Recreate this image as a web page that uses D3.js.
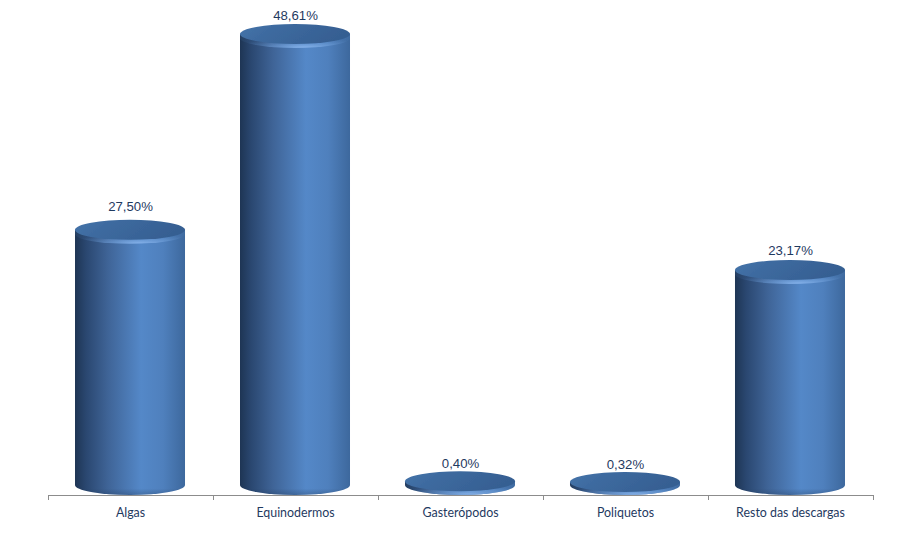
<!DOCTYPE html>
<html><head><meta charset="utf-8">
<script src="https://cdn.jsdelivr.net/npm/d3@7"></script>
<style>html,body{margin:0;background:#fff}svg{display:block}</style></head>
<body><svg id="c" width="909" height="551"></svg>
<script>
const categories = ["Algas","Equinodermos","Gasterópodos","Poliquetos","Resto das descargas"];
const values = [27.50,48.61,0.40,0.32,23.17];
const labels = ["27,50%","48,61%","0,40%","0,32%","23,17%"];
const labelGaps = [19,14,13,13,15];

const svg = d3.select("#c");
const x = d3.scaleBand().domain(categories).range([48,873]).paddingInner(0.3333).paddingOuter(0.1667);
const y = d3.scaleLinear().domain([0,48.61]).range([485,34]);
const rx = x.bandwidth()/2, ry = 10;

const defs = svg.append("defs");
const g = defs.append("linearGradient").attr("id","side");
[[0,"#1e3554"],[0.1,"#2a4770"],[0.3,"#3f6497"],[0.6,"#5488c8"],[0.8,"#4f80bd"],[1,"#3d689d"]]
  .forEach(([o,c])=>g.append("stop").attr("offset",o).attr("stop-color",c));
const glow = defs.append("radialGradient").attr("id","glow").attr("cx",0.58).attr("cy",0.95).attr("r",0.62);
[[0,"#86b2ea",0.95],[0.55,"#6f9fd9",0.45],[1,"#4f7fb8",0.12]].forEach(([o,c,a])=>glow.append("stop").attr("offset",o).attr("stop-color",c).attr("stop-opacity",a));
const face = defs.append("linearGradient").attr("id","face").attr("x1",0).attr("x2",1).attr("y1",0).attr("y2",0.25);
[[0,"#4674aa"],[0.35,"#3d6a9f"],[1,"#365f92"]].forEach(([o,c])=>face.append("stop").attr("offset",o).attr("stop-color",c));
const base = defs.append("linearGradient").attr("id","base").attr("x1",0).attr("x2",0).attr("y1",0).attr("y2",1);
[[0,"#1e3554",0],[0.7,"#1e3554",0],[1,"#1e3554",0.3]].forEach(([o,c,a])=>base.append("stop").attr("offset",o).attr("stop-color",c).attr("stop-opacity",a));
defs.append("filter").attr("id","blur").attr("x","-20%").attr("y","-20%").attr("width","140%").attr("height","140%")
  .append("feGaussianBlur").attr("stdDeviation",0.5);

const axis = d3.axisBottom(x).tickSize(0).tickPadding(13);
const ag = svg.append("g").attr("transform","translate(0,495)").call(axis);
ag.select(".domain").attr("stroke","#8c8c8c").attr("stroke-width",1.2).attr("d","M48,0.5H873");
ag.selectAll("text").attr("font-family","Lato, 'Noto Sans', sans-serif").attr("font-size",12.4).attr("fill","#1f3a5f");
const tickScale = d3.scaleLinear().domain([0,categories.length]).range([48,873]);
ag.selectAll(".sep").data(d3.range(categories.length+1)).join("line").attr("class","sep")
  .attr("x1",d=>tickScale(d)+0.5).attr("x2",d=>tickScale(d)+0.5).attr("y1",0).attr("y2",5)
  .attr("stroke","#8c8c8c");

const bars = svg.append("g").attr("transform","translate(-0.5,0)").selectAll("g").data(categories).join("g");
bars.append("path")
  .attr("fill","url(#side)")
  .attr("d",(d,i)=>{
    const l=x(d), r=l+2*rx, top=y(values[i]), bot=y(0);
    return `M${l},${top}L${l},${bot}A${rx},${ry} 0 0 0 ${r},${bot}L${r},${top}Z`;
  });
bars.append("path")
  .attr("fill","url(#base)")
  .attr("d",(d,i)=>{
    const l=x(d), r=l+2*rx, bot=y(0), top=Math.max(y(values[i]),bot-12);
    return `M${l},${top}L${l},${bot}A${rx},${ry} 0 0 0 ${r},${bot}L${r},${top}Z`;
  });
bars.append("path")
  .attr("fill","url(#glow)")
  .attr("d",(d,i)=>{
    const l=x(d), r=l+2*rx, top=y(values[i]), low=Math.min(top+4,y(0));
    return `M${l},${top}L${l},${low}A${rx},${ry} 0 0 0 ${r},${low}L${r},${top}Z`;
  });
bars.append("ellipse")
  .attr("cx",d=>x(d)+rx)
  .attr("cy",(d,i)=>y(values[i]))
  .attr("rx",rx).attr("ry",ry)
  .attr("fill","url(#face)").attr("filter","url(#blur)");

svg.append("g").selectAll("text").data(categories).join("text")
  .attr("x",d=>x(d)+rx)
  .attr("y",(d,i)=>y(values[i])-labelGaps[i])
  .attr("text-anchor","middle")
  .attr("font-family","'Liberation Sans', Arial, sans-serif")
  .attr("font-size",13.2)
  .attr("fill","#1f3a5f")
  .text((d,i)=>labels[i]);
</script></body></html>
